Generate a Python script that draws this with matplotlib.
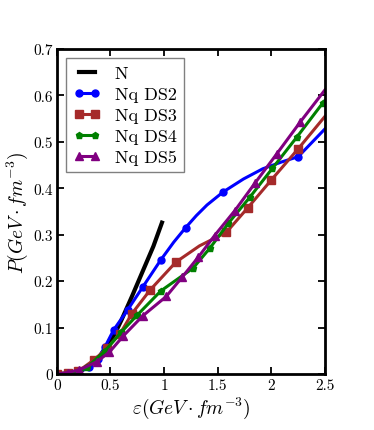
import numpy as np
import matplotlib
matplotlib.use('Agg')
import matplotlib.pyplot as plt
from matplotlib.ticker import FuncFormatter

plt.rcParams['font.family'] = 'serif'
plt.rcParams['font.serif'] = ['cmr10']
plt.rcParams['mathtext.fontset'] = 'cm'
plt.rcParams['axes.formatter.use_mathtext'] = True

# N (no markers)
n_x = [0.0, 0.1, 0.2, 0.3, 0.4, 0.5, 0.55, 0.6, 0.7, 0.8, 0.9, 0.98]
n_y = [0.0, 0.001, 0.004, 0.016, 0.038, 0.07, 0.091, 0.115, 0.167, 0.221, 0.275, 0.326]

# Nq DS2
ds2_x = [0.0, 0.1, 0.2, 0.3, 0.38, 0.45, 0.53, 0.66, 0.8, 0.97, 1.09, 1.2, 1.3, 1.4,
         1.55, 1.74, 1.92, 2.1, 2.25, 2.5]
ds2_y = [0.0, 0.001, 0.004, 0.014, 0.032, 0.059, 0.095, 0.138, 0.187, 0.246, 0.284, 0.315,
         0.341, 0.364, 0.392, 0.42, 0.442, 0.457, 0.468, 0.528]
ds2_marks = [0, 1, 2, 3, 4, 5, 6, 7, 8, 9, 11, 14, 18]

# Nq DS3
ds3_x = [0.0, 0.1, 0.2, 0.35, 0.47, 0.59, 0.7, 0.87, 1.11, 1.33, 1.58, 1.78, 2.0, 2.25, 2.5]
ds3_y = [0.0, 0.002, 0.006, 0.031, 0.056, 0.087, 0.13, 0.181, 0.241, 0.276, 0.305, 0.358, 0.418, 0.485, 0.555]
ds3_marks = [0, 1, 2, 3, 4, 5, 6, 7, 8, 10, 11, 12, 13]

# Nq DS4
ds4_x = [0.0, 0.1, 0.2, 0.28, 0.45, 0.6, 0.75, 0.97, 1.27, 1.43, 1.6, 1.8, 2.01, 2.24, 2.48, 2.5]
ds4_y = [0.0, 0.001, 0.004, 0.014, 0.05, 0.09, 0.127, 0.179, 0.228, 0.272, 0.325, 0.381, 0.443, 0.511, 0.584, 0.589]
ds4_marks = list(range(15))

# Nq DS5
ds5_x = [0.0, 0.1, 0.21, 0.37, 0.49, 0.62, 0.8, 1.02, 1.17, 1.32, 1.47, 1.66, 1.85, 2.05, 2.27, 2.5]
ds5_y = [0.0, 0.003, 0.009, 0.026, 0.047, 0.082, 0.125, 0.167, 0.209, 0.252, 0.298, 0.352, 0.412, 0.474, 0.543, 0.612]
ds5_marks = list(range(15))

fig = plt.figure(figsize=(3.74, 4.31), dpi=100)
ax = fig.add_axes([0.152, 0.130, 0.717, 0.754])

lw = 2.2
ax.plot(n_x, n_y, color='k', lw=3, label='N')
ax.plot(ds2_x, ds2_y, color='#0000ff', lw=lw, marker='o', ms=5, mec='#0000ff',
        markevery=ds2_marks, label='Nq DS2')
ax.plot(ds3_x, ds3_y, color='#a52a2a', lw=lw, marker='s', ms=5.5, mec='#a52a2a',
        markevery=ds3_marks, label='Nq DS3')
ax.plot(ds4_x, ds4_y, color='#008000', lw=lw, marker='p', ms=5, mec='#008000',
        markevery=ds4_marks, label='Nq DS4')
ax.plot(ds5_x, ds5_y, color='#800080', lw=lw, marker='^', ms=5.5, mec='#800080',
        markevery=ds5_marks, label='Nq DS5')

ax.set_xlim(0, 2.5)
ax.set_ylim(0, 0.7)
ax.set_xticks(np.arange(0, 2.51, 0.5))
ax.set_yticks(np.arange(0, 0.71, 0.1))
fmt = FuncFormatter(lambda v, p: '%g' % round(v, 2))
ax.xaxis.set_major_formatter(fmt)
ax.yaxis.set_major_formatter(fmt)
ax.tick_params(direction='in', top=True, right=True, length=5, width=1.3,
               labelsize=11, pad=3)
for s in ax.spines.values():
    s.set_linewidth(2)

ax.set_xlabel(r'$\varepsilon(GeV\cdot fm^{-3})$', fontsize=14, labelpad=2)
ax.set_ylabel(r'$P(GeV\cdot fm^{-3})$', fontsize=14, labelpad=2)

leg = ax.legend(loc='upper left', fontsize=13, numpoints=2, handlelength=1.5,
                fancybox=False, borderaxespad=0.5, labelspacing=0.3,
                handletextpad=0.8, framealpha=1)
leg.get_frame().set_edgecolor('0.5')
leg.get_frame().set_linewidth(1)

fig.savefig('out.png', dpi=100)
